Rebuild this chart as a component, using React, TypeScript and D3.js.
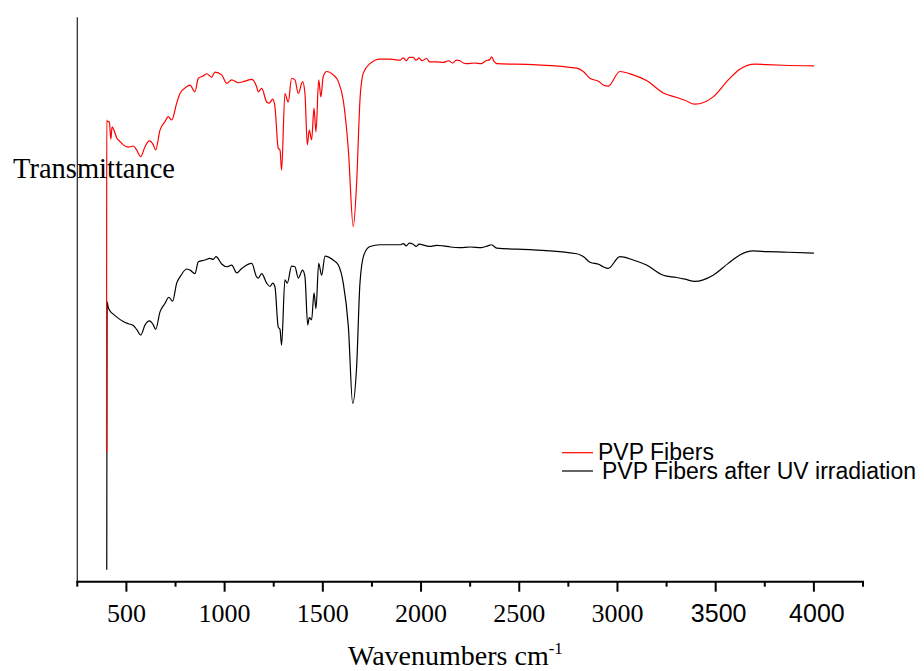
import React from "react";
import * as d3 from "d3";

// Axis ticks (cm-1)
const majorTicks = [500, 1000, 1500, 2000, 2500, 3000, 3500, 4000];
const minorTicks = [250, 750, 1250, 1750, 2250, 2750, 3250, 3750, 4250];
const sansTicks = [3500, 4000];

const legendLabels = ["PVP Fibers", "PVP Fibers after UV irradiation"];
const seriesColors = ["#ff0000", "#000000"];

// PVP Fibers: [wavenumber, transmittance (a.u.)]
const pvpFibers: [number, number][] = [
  [399, 23.0], [400, 81.8], [403, 81.5], [413, 81.5], [421, 78.4], [427, 80.6], [437, 80.0],
  [451, 78.6], [467, 78.0], [484, 77.4], [510, 77.0], [535, 77.2], [552, 76.5], [573, 75.3],
  [595, 77.1], [617, 78.1], [637, 77.4], [649, 76.5], [671, 80.0], [696, 81.5], [713, 82.4],
  [731, 81.8], [756, 84.8], [773, 86.5], [807, 87.7], [824, 88.0], [849, 86.8], [866, 89.2],
  [891, 89.6], [909, 90.0], [934, 89.4], [951, 90.3], [985, 89.8], [1011, 88.3], [1036, 88.9],
  [1070, 88.4], [1104, 88.7], [1138, 89.0], [1163, 87.7], [1171, 86.8], [1189, 87.4],
  [1214, 85.0], [1227, 84.8], [1245, 85.5], [1256, 84.2], [1273, 76.8], [1282, 76.5],
  [1290, 72.9], [1307, 86.5], [1324, 85.0], [1341, 89.2], [1358, 88.9], [1375, 86.5],
  [1397, 88.6], [1409, 86.5], [1421, 77.4], [1431, 80.0], [1443, 78.3], [1455, 83.9],
  [1465, 79.7], [1479, 88.9], [1490, 85.9], [1502, 89.5], [1520, 90.4], [1553, 89.8],
  [1579, 88.6], [1604, 85.3], [1630, 76.5], [1655, 62.9], [1672, 70.6], [1689, 85.3],
  [1706, 90.1], [1740, 91.8], [1791, 92.6], [1842, 92.6], [1892, 92.4], [1910, 92.8],
  [1925, 92.3], [1940, 92.9], [1960, 92.9], [1975, 92.4], [1990, 92.8], [2005, 92.3],
  [2028, 92.7], [2040, 92.2], [2045, 92.1], [2080, 92.1], [2113, 92.0], [2140, 92.3],
  [2160, 91.9], [2180, 92.4], [2198, 92.3], [2215, 91.9], [2232, 91.8], [2270, 91.9],
  [2308, 91.8], [2330, 92.3], [2350, 92.5], [2359, 93.0], [2372, 92.2], [2385, 91.8],
  [2571, 91.6], [2792, 91.0], [2826, 90.4], [2860, 89.2], [2907, 88.6], [2927, 88.0],
  [2953, 87.8], [3012, 90.4], [3080, 89.8], [3148, 88.8], [3233, 86.6], [3301, 85.8],
  [3343, 85.3], [3394, 84.6], [3487, 85.9], [3564, 88.9], [3623, 90.8], [3700, 91.7],
  [3759, 91.6], [3844, 91.5], [4000, 91.4],
];

// PVP Fibers after UV irradiation
const pvpFibersUV: [number, number][] = [
  [400, 2.1], [402, 49.6], [407, 48.7], [416, 48.0], [433, 47.4], [458, 46.7], [484, 46.1],
  [510, 45.7], [535, 45.4], [552, 44.7], [573, 43.7], [595, 45.5], [617, 46.2], [637, 45.5],
  [649, 44.7], [671, 47.8], [696, 49.3], [716, 50.4], [735, 49.7], [756, 52.9], [773, 54.0],
  [807, 55.4], [824, 55.2], [849, 54.6], [866, 56.7], [900, 57.0], [925, 57.3], [942, 57.1],
  [956, 57.6], [985, 56.3], [1011, 55.8], [1036, 56.1], [1062, 54.7], [1087, 55.5],
  [1138, 56.4], [1163, 54.0], [1171, 53.8], [1189, 54.6], [1214, 52.9], [1231, 52.3],
  [1245, 52.9], [1256, 52.3], [1273, 45.1], [1282, 44.7], [1290, 41.9], [1307, 53.5],
  [1319, 52.9], [1341, 55.9], [1358, 55.8], [1375, 53.8], [1397, 55.2], [1409, 54.0],
  [1423, 45.5], [1431, 46.8], [1443, 46.4], [1455, 51.2], [1465, 48.4], [1479, 56.4],
  [1494, 54.3], [1511, 57.7], [1553, 57.0], [1579, 56.1], [1604, 52.9], [1630, 45.2],
  [1652, 31.6], [1672, 38.1], [1689, 52.9], [1709, 57.9], [1740, 59.4], [1791, 59.7],
  [1842, 59.7], [1892, 59.7], [1910, 59.9], [1925, 59.5], [1940, 60.0], [1960, 59.8],
  [1975, 59.4], [1990, 59.8], [2028, 59.5], [2045, 59.4], [2080, 59.6], [2113, 59.5],
  [2150, 59.3], [2198, 59.2], [2250, 59.3], [2308, 59.2], [2340, 59.5], [2359, 59.7],
  [2385, 59.1], [2571, 58.8], [2792, 58.1], [2826, 57.6], [2860, 56.6], [2907, 56.2],
  [2927, 55.8], [2953, 55.5], [3012, 57.6], [3080, 57.0], [3148, 56.1], [3233, 54.3],
  [3301, 53.9], [3343, 53.6], [3394, 53.2], [3487, 54.3], [3564, 56.4], [3623, 57.9],
  [3691, 58.6], [3759, 58.5], [3844, 58.4], [4000, 58.2],
];

export default function App() {
  const W = 924;
  const H = 671;
  const x = d3.scaleLinear().domain([250, 4250]).range([77.3, 863]);
  const y = d3.scaleLinear().domain([0, 100]).range([581.7, 17.3]);
  const line = d3
    .line<[number, number]>()
    .x((d) => x(d[0]))
    .y((d) => y(d[1]))
    .curve(d3.curveMonotoneX);

  const serif = "'Liberation Serif', 'Times New Roman', serif";
  const sans = "'Liberation Sans', Arial, sans-serif";
  const axisY = y(0);

  return (
    <svg
      width={W}
      height={H}
      style={{ position: "absolute", left: 0, top: 0, background: "#fff" }}
    >
      <rect x={0} y={0} width={W} height={H} fill="#fff" />
      {/* Y axis */}
      <line x1={x(250)} x2={x(250)} y1={y(100)} y2={axisY} stroke="#222" strokeWidth={1.2} />
      {/* curves: UV (black) first, then red */}
      <path d={line(pvpFibersUV) || ""} fill="none" stroke={seriesColors[1]} strokeWidth={1.2} />
      <path d={line(pvpFibers) || ""} fill="none" stroke={seriesColors[0]} strokeWidth={1.2} />
      {/* X axis */}
      <line x1={x(250) - 1} x2={x(4250) + 1} y1={axisY} y2={axisY} stroke="#000" strokeWidth={2} />
      {majorTicks.map((t) => (
        <line key={"M" + t} x1={x(t)} x2={x(t)} y1={axisY} y2={axisY + 10} stroke="#000" strokeWidth={2} />
      ))}
      {minorTicks.map((t) => (
        <line key={"m" + t} x1={x(t)} x2={x(t)} y1={axisY} y2={axisY + 5} stroke="#000" strokeWidth={2} />
      ))}
      {majorTicks.map((t) => {
        const isSans = sansTicks.includes(t);
        return (
          <text
            key={"L" + t}
            x={x(t) + (isSans ? 3 : 0)}
            y={622}
            textAnchor="middle"
            fontFamily={isSans ? sans : serif}
            fontSize={isSans ? 25 : 26}
            fill="#000"
          >
            {t}
          </text>
        );
      })}
      {/* Axis titles */}
      <text x={348} y={665} fontFamily={serif} fontSize={28} fill="#000">
        Wavenumbers cm
        <tspan fontSize={17} dy={-11}>-1</tspan>
      </text>
      <text x={13} y={178} fontFamily={serif} fontSize={28.5} fill="#000">
        Transmittance
      </text>
      {/* Legend */}
      {legendLabels.map((lab, i) => {
        const ly = i === 0 ? 452.7 : 471;
        return (
          <g key={lab}>
            <line x1={562} x2={593} y1={ly} y2={ly} stroke={seriesColors[i]} strokeWidth={1.2} />
            <text
              x={i === 0 ? 598 : 602}
              y={i === 0 ? 460 : 479}
              fontFamily={sans}
              fontSize={23}
              fill="#000"
            >
              {lab}
            </text>
          </g>
        );
      })}
    </svg>
  );
}
